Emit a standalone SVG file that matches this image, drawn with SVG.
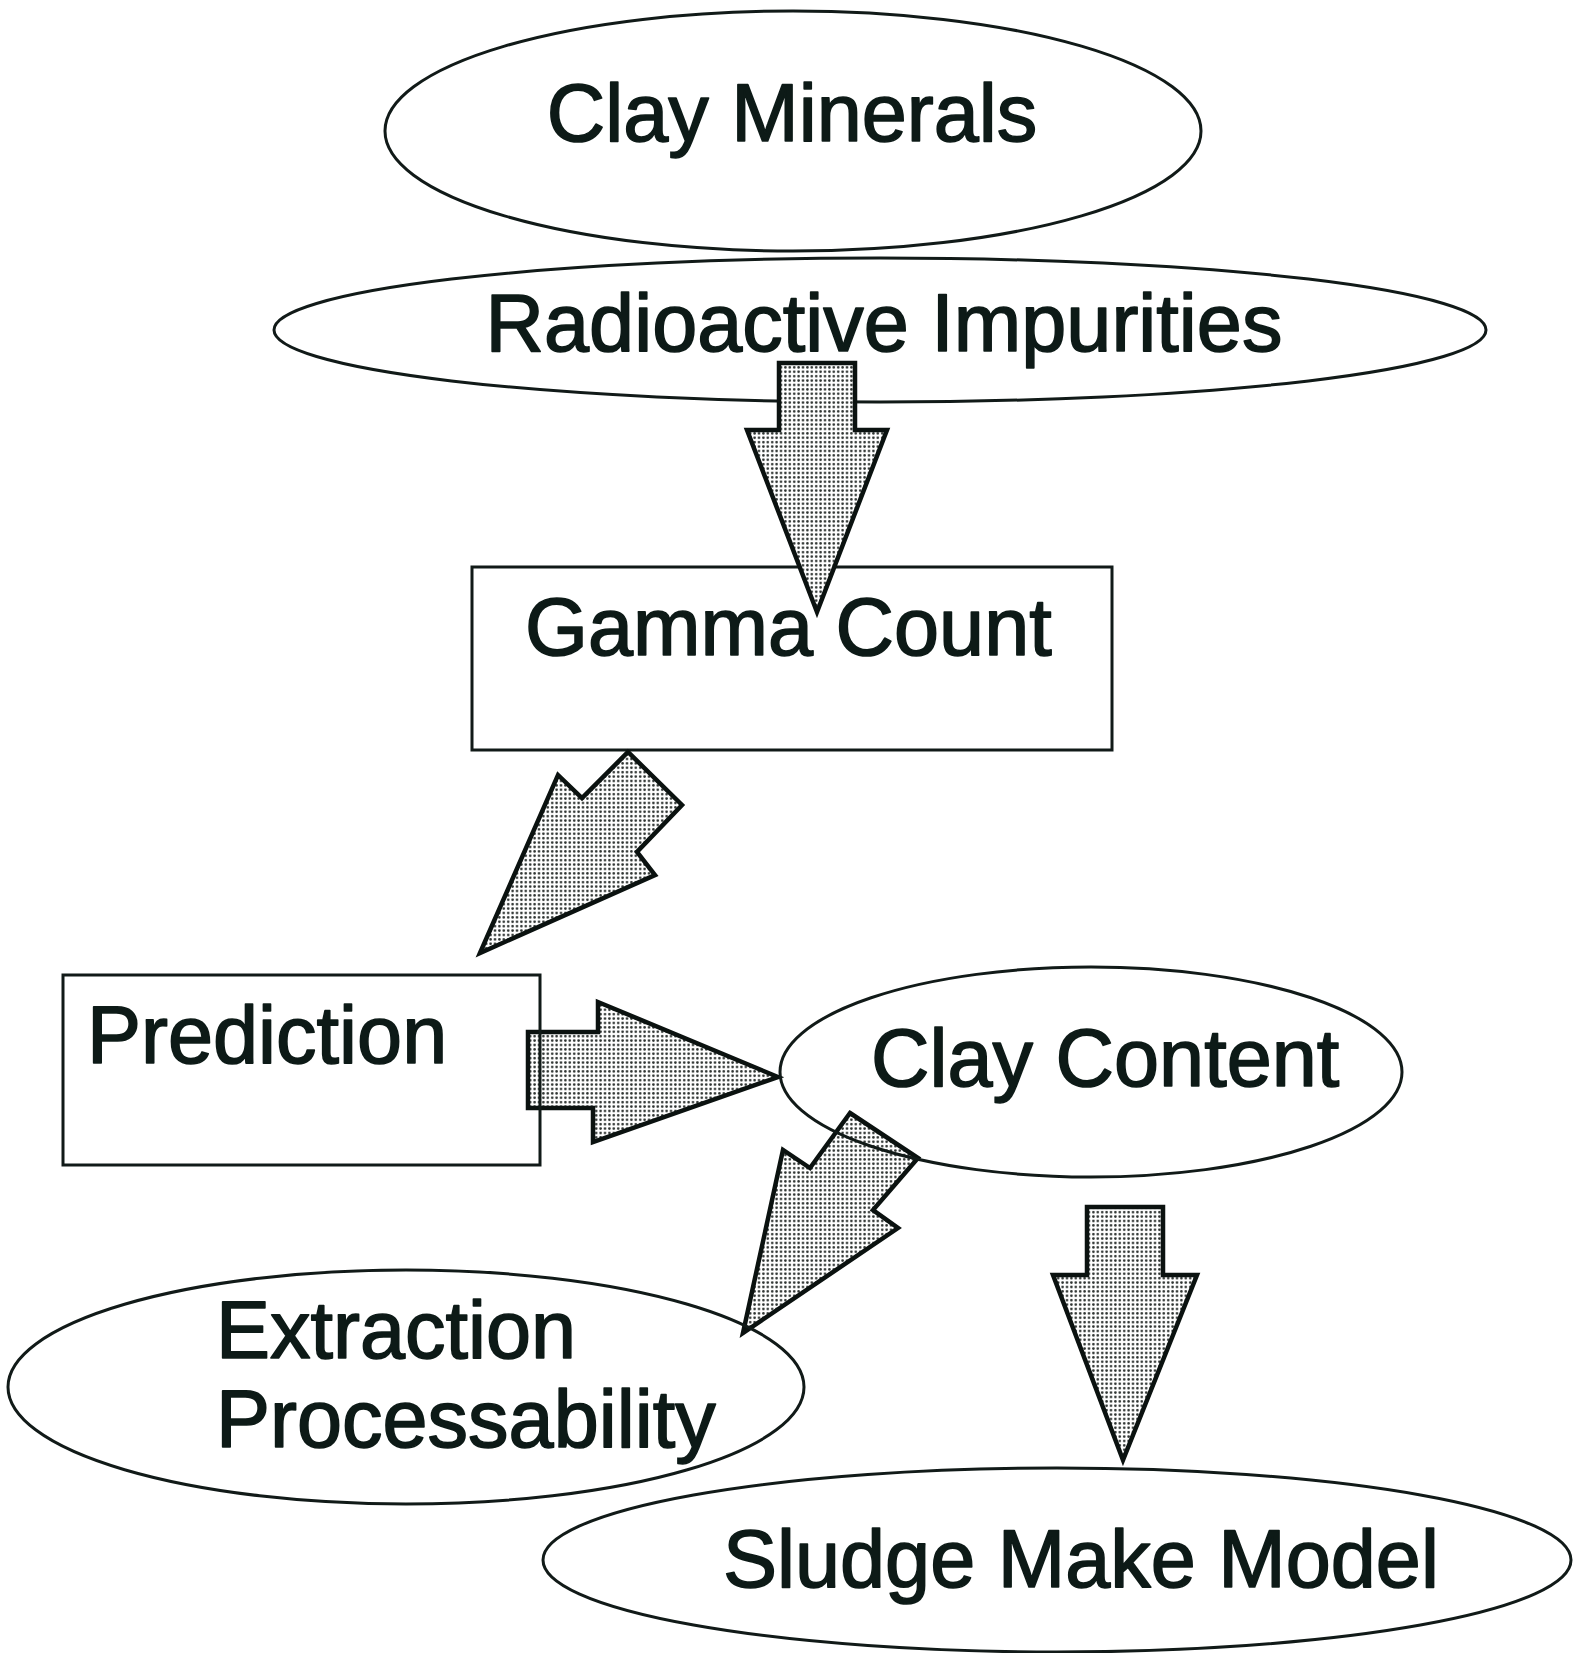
<svg xmlns="http://www.w3.org/2000/svg" width="1575" height="1653" viewBox="0 0 1575 1653">
<style>
.node{fill:none;stroke:#111a18;stroke-width:3}
.lbl{font-family:"Liberation Sans",Arial,sans-serif;font-size:81px;fill:#0d1a17;stroke:#0d1a17;stroke-width:1.6;stroke-linejoin:round}
.arr{fill:url(#dots);stroke:#0b1210;stroke-width:4.5;stroke-linejoin:miter}
</style>
<defs>
<pattern id="dots" width="4.4" height="4.4" patternUnits="userSpaceOnUse">
<rect width="4.4" height="4.4" fill="#ffffff"/>
<circle cx="2.2" cy="2.2" r="1.3" fill="#2a2f2d"/>
</pattern>
</defs>
<rect width="1575" height="1653" fill="#ffffff"/>
<g id="clay-minerals">
<ellipse class="node" cx="793" cy="131" rx="408" ry="120"/>
<text class="lbl" x="792" y="141" text-anchor="middle">Clay Minerals</text>
</g>
<g id="radioactive-impurities">
<ellipse class="node" cx="880" cy="330" rx="606" ry="72"/>
<text class="lbl" x="884" y="351" text-anchor="middle">Radioactive Impurities</text>
</g>
<g id="gamma-count">
<rect class="node" x="472" y="567" width="640" height="183"/>
<text class="lbl" x="525" y="655">Gamma Count</text>
</g>
<g id="connectors">
<polygon class="arr" points="779,363 855,363 855,430 887,430 817,612 747,430 779,430"/>
<polygon class="arr" points="480,953 558,775 582,798 628,752 682,805 637,852 655,875"/>
<polygon class="arr" points="528,1032 598,1032 598,1002 778,1077 593,1142 593,1108 528,1108"/>
<polygon class="arr" points="850,1113 918,1158 873,1210 898,1228 743,1333 783,1150 810,1168"/>
<polygon class="arr" points="1087,1207 1163,1207 1163,1275 1197,1275 1123,1460 1053,1275 1087,1275"/>
</g>
<g id="prediction">
<rect class="node" x="63" y="975" width="477" height="190"/>
<text class="lbl" x="87" y="1063">Prediction</text>
</g>
<g id="clay-content">
<ellipse class="node" cx="1091" cy="1072" rx="311" ry="105"/>
<text class="lbl" x="871" y="1086">Clay Content</text>
</g>
<g id="extraction-processability">
<ellipse class="node" cx="406" cy="1387" rx="398" ry="117"/>
<text class="lbl" x="216" y="1358">Extraction</text>
<text class="lbl" x="216" y="1447">Processability</text>
</g>
<g id="sludge-make-model">
<ellipse class="node" cx="1057" cy="1560" rx="514" ry="92"/>
<text class="lbl" x="723" y="1587">Sludge Make Model</text>
</g>
</svg>
